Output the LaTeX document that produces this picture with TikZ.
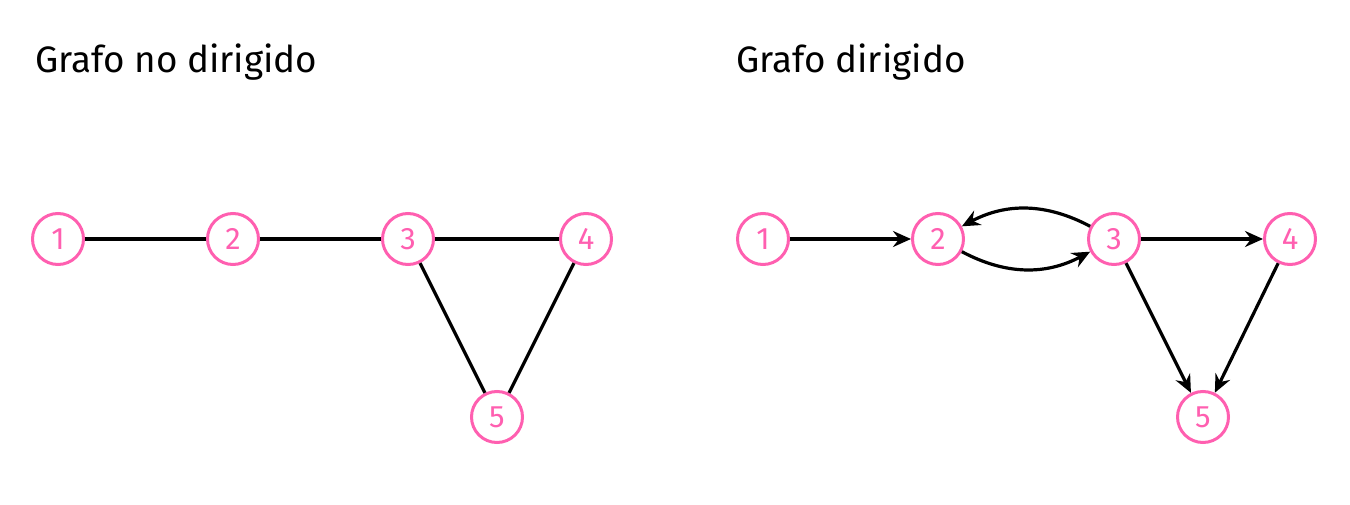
\documentclass[tikz,border=0pt]{standalone}
\usepackage{fontspec}
\setmainfont{Fira Sans}
\usetikzlibrary{arrows.meta}
\definecolor{vpink}{HTML}{FF5FB0}
\tikzset{
  vtx/.style={circle, draw=vpink, line width=3pt, minimum size=51pt, inner sep=0pt, text=vpink, font=\fontsize{31pt}{31pt}\selectfont},
  edg/.style={line width=3.2pt, black},
  arr/.style={edg, -{Stealth[length=18pt,width=16pt,inset=6pt]}},
  ttl/.style={anchor=base west, inner sep=0pt, font=\fontsize{36.8pt}{36.8pt}\selectfont}
}
\begin{document}
\begin{tikzpicture}[x=1pt,y=1pt]
\useasboundingbox (0,0) rectangle (1350,504);
\node[ttl] (t1) at (35,431) {Grafo no dirigido};
\node[ttl] (t2) at (736,431) {Grafo dirigido};
% undirected
\node[vtx] (a1) at (58,265) {1};
\node[vtx] (a2) at (233,265) {2};
\node[vtx] (a3) at (408,265) {3};
\node[vtx] (a4) at (586,265) {4};
\node[vtx] (a5) at (497,87) {5};
\draw[edg] (a1) -- (a2);
\draw[edg] (a2) -- (a3);
\draw[edg] (a3) -- (a4);
\draw[edg] (a3) -- (a5);
\draw[edg] (a4) -- (a5);
% directed
\node[vtx] (b1) at (763,265) {1};
\node[vtx] (b2) at (938,265) {2};
\node[vtx] (b3) at (1114,265) {3};
\node[vtx] (b4) at (1290,265) {4};
\node[vtx] (b5) at (1203,87) {5};
\draw[arr] (b1) -- (b2);
\draw[arr] (b2) to[bend right=28] (b3);
\draw[arr] (b3) to[bend right=28] (b2);
\draw[arr] (b3) -- (b4);
\draw[arr] (b3) -- (b5);
\draw[arr] (b4) -- (b5);
\end{tikzpicture}
\end{document}
